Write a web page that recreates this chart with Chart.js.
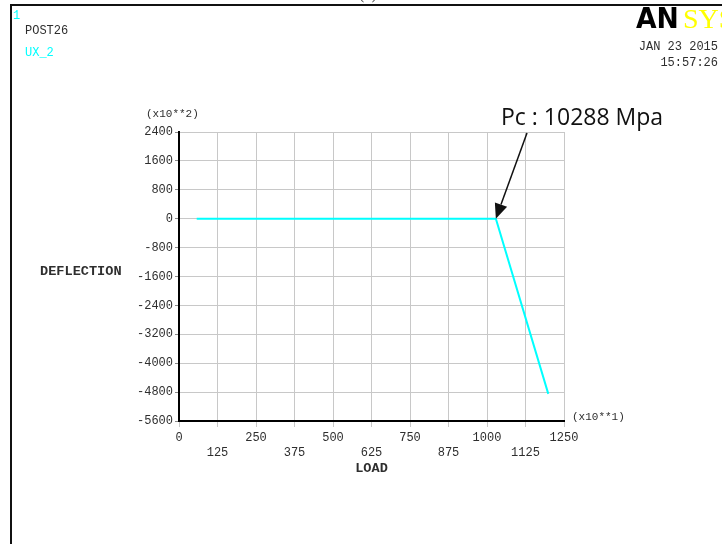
<!DOCTYPE html>
<html>
<head>
<meta charset="utf-8">
<script src="https://cdn.jsdelivr.net/npm/chart.js@4/dist/chart.umd.min.js"></script>
<style>
  html, body { margin: 0; padding: 0; background: #fff; }
  #wrap { width: 722px; height: 544px; position: relative; overflow: hidden; }
  canvas { display: block; }
</style>
</head>
<body>
<div id="wrap"><canvas id="c" width="722" height="544"></canvas></div>
<script>
// Load history (x10**1) and tip deflection UX_2 (x10**2)
const loads = [57.5, 1028.8, 1199];
const deflections = [0, 0, -4850];

// Axis ranges and ticks
const xMin = 0, xMax = 1250, xStep = 125;
const yMin = -5600, yMax = 2400, yStep = 800;

// Critical load marker
const pcLoad = 1028.8;
const pcLabel = 'Pc : 10288 Mpa';

const MONO = '"Liberation Mono", "DejaVu Sans Mono", monospace';
const TXT = '#2e2e2e';
const CYAN = '#00ffff';

const points = loads.map((x, i) => ({ x: x, y: deflections[i] }));

// Extra page text, frame, logo and the Pc arrow
const decorations = {
  id: 'decorations',
  afterDraw(chart) {
    const ctx = chart.ctx;
    const xs = chart.scales.x, ys = chart.scales.y;
    const area = chart.chartArea;
    ctx.save();

    // page frame
    ctx.strokeStyle = '#111';
    ctx.lineWidth = 2;
    ctx.beginPath();
    ctx.moveTo(11, 544);
    ctx.lineTo(11, 5);
    ctx.lineTo(722, 5);
    ctx.stroke();

    // caption clipped at the top edge
    ctx.fillStyle = '#444';
    ctx.font = '16px "Liberation Serif", serif';
    ctx.textAlign = 'center';
    ctx.textBaseline = 'alphabetic';
    ctx.fillText('(a)', 368, -1);

    // window number and plot labels
    ctx.textAlign = 'left';
    ctx.textBaseline = 'middle';
    ctx.font = '12px ' + MONO;
    ctx.fillStyle = CYAN;
    ctx.fillText('1', 13, 16);
    ctx.fillStyle = TXT;
    ctx.fillText('POST26', 25, 31);
    ctx.fillStyle = CYAN;
    ctx.fillText('UX_2', 25, 53);

    // date and time
    ctx.fillStyle = TXT;
    ctx.textAlign = 'right';
    ctx.fillText('JAN 23 2015', 718, 47);
    ctx.fillText('15:57:26', 718, 63);

    // logo
    ctx.textAlign = 'left';
    ctx.textBaseline = 'alphabetic';
    ctx.fillStyle = '#000';
    ctx.font = 'bold 28px "DejaVu Sans", sans-serif';
    ctx.save();
    ctx.translate(636, 28);
    ctx.scale(0.95, 1);
    ctx.fillText('AN', 0, 0);
    ctx.restore();
    ctx.fillStyle = '#ffff00';
    ctx.font = '28px "Liberation Serif", serif';
    ctx.fillText('SYS', 683, 28);

    // axis multipliers and titles
    ctx.fillStyle = TXT;
    ctx.font = '11px ' + MONO;
    ctx.textBaseline = 'middle';
    ctx.textAlign = 'left';
    ctx.fillText('(x10**2)', 146, 114);
    ctx.fillText('(x10**1)', 572, 417);
    ctx.font = 'bold 13.6px ' + MONO;
    ctx.fillText('DEFLECTION', 40, 272);
    ctx.textAlign = 'center';
    ctx.fillText('LOAD', (area.left + area.right) / 2, 469);

    // Pc annotation
    ctx.fillStyle = '#111';
    ctx.font = '23px "Open Sans", sans-serif';
    ctx.textAlign = 'left';
    ctx.fillText(pcLabel, 501, 118);

    const tx = xs.getPixelForValue(pcLoad);
    const ty = ys.getPixelForValue(0);
    const sx = 527, sy = 133;
    const ang = Math.atan2(ty - sy, tx - sx);
    const headLen = 15, headW = 6.5;
    const bx = tx - headLen * Math.cos(ang), by = ty - headLen * Math.sin(ang);
    ctx.strokeStyle = '#111';
    ctx.lineWidth = 1.5;
    ctx.beginPath();
    ctx.moveTo(sx, sy);
    ctx.lineTo(bx, by);
    ctx.stroke();
    ctx.beginPath();
    ctx.moveTo(tx, ty);
    ctx.lineTo(bx + headW * Math.sin(ang), by - headW * Math.cos(ang));
    ctx.lineTo(bx - headW * Math.sin(ang), by + headW * Math.cos(ang));
    ctx.closePath();
    ctx.fillStyle = '#111';
    ctx.fill();

    ctx.restore();
  }
};

new Chart(document.getElementById('c'), {
  type: 'line',
  data: {
    datasets: [{
      data: points,
      borderColor: CYAN,
      borderWidth: 2,
      pointRadius: 0,
      fill: false,
      tension: 0
    }]
  },
  options: {
    responsive: false,
    animation: false,
    events: [],
    layout: { padding: { top: 132, right: 158, left: 0, bottom: 0 } },
    plugins: { legend: { display: false }, tooltip: { enabled: false } },
    scales: {
      x: {
        type: 'linear',
        min: xMin, max: xMax,
        afterFit(s) { s.height = 123; },
        afterBuildTicks(s) {
          const t = [];
          for (let v = xMin; v <= xMax; v += xStep) t.push({ value: v });
          s.ticks = t;
        },
        grid: { color: '#c8c8c8', lineWidth: 1, tickLength: 6, tickColor: '#c8c8c8' },
        border: { color: '#000', width: 2 },
        ticks: {
          color: TXT,
          font: { family: MONO, size: 12 },
          padding: 4,
          maxRotation: 0,
          autoSkip: false,
          callback: (v, i) => (i % 2 === 0 ? [String(v), ''] : ['', String(v)])
        }
      },
      y: {
        type: 'linear',
        min: yMin, max: yMax,
        afterFit(s) { s.width = 179; },
        afterBuildTicks(s) {
          const t = [];
          for (let v = yMin; v <= yMax; v += yStep) t.push({ value: v });
          s.ticks = t;
        },
        grid: { color: '#c8c8c8', lineWidth: 1, tickLength: 4, tickColor: '#888' },
        border: { color: '#000', width: 2 },
        ticks: {
          color: TXT,
          font: { family: MONO, size: 12 },
          padding: 2,
          autoSkip: false,
          callback: v => String(v)
        }
      }
    }
  },
  plugins: [decorations]
});
</script>
</body>
</html>
